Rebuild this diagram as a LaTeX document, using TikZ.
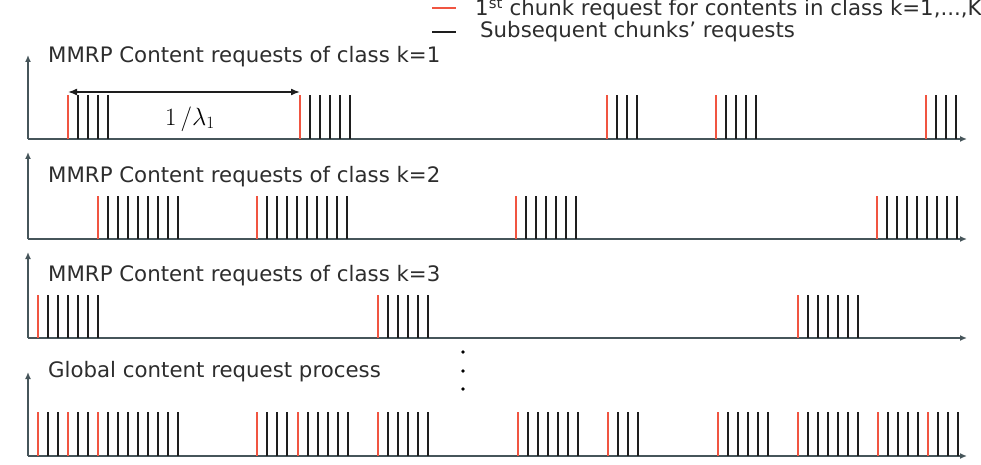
\documentclass[tikz,border=0pt]{standalone}
\usepackage{fontspec}
\setmainfont{DejaVu Sans}
\usetikzlibrary{arrows.meta}
\definecolor{reqred}{RGB}{240,85,65}
\definecolor{pulsec}{RGB}{30,30,30}
\definecolor{axisc}{RGB}{70,85,90}
\definecolor{txtc}{RGB}{45,45,45}
\newcommand\myburst[4]{%
  \draw[firstreq] (#1,#3) -- (#1,#4);
  \foreach \i in {1,...,#2} \draw[chunkreq] ({#1+10*\i},#3) -- ({#1+10*\i},#4);}
\begin{document}
\begin{tikzpicture}[x=1pt,y=-1pt,
  axisline/.style={draw=axisc, line width=1.6pt, -{Latex[length=7pt,width=6pt]}},
  firstreq/.style={draw=reqred, line width=2.3pt},
  chunkreq/.style={draw=pulsec, line width=2.3pt},
  rowtitle/.style={font=\fontsize{21.3}{25}\selectfont, text=txtc, anchor=west, inner sep=0pt},
  legtext/.style={font=\fontsize{21.3}{25}\selectfont, text=txtc, anchor=west, inner sep=0pt},
  dotc/.style={fill=black, draw=none}]
\useasboundingbox (0,0) rectangle (981,465);

% legend
\coordinate (lr1) at (432,8); \coordinate (lr2) at (456,8);
\coordinate (lb1) at (432,32); \coordinate (lb2) at (456,32);
\draw[firstreq] (lr1) -- (lr2);
\draw[chunkreq] (lb1) -- (lb2);
\node[legtext] (leg1) at (475,9) {1\textsuperscript{st} chunk request for contents in class k=1,...,K};
\node[legtext] (leg2) at (480,32) {Subsequent chunks' requests};

% axes
\foreach \ay/\ty [count=\r] in {139/55, 239/152, 338/252, 456/372} {
  \coordinate (o\r) at (28,\ay);
  \coordinate (v\r) at (28,\ty);
  \coordinate (h\r) at (967,\ay);
  \draw[axisline] (o\r) -- (v\r);
  \draw[axisline] (o\r) -- (h\r);
}

% titles
\node[rowtitle] (t1) at (48,57) {MMRP Content requests of class k=1};
\node[rowtitle] (t2) at (48,177) {MMRP Content requests of class k=2};
\node[rowtitle] (t3) at (48,276) {MMRP Content requests of class k=3};
\node[rowtitle] (t4) at (48,372) {Global content request process};

% row 1
\myburst{68}{4}{139}{95}
\myburst{300}{5}{139}{95}
\myburst{607}{3}{139}{95}
\myburst{716}{4}{139}{95}
\myburst{926}{3}{139}{95}
\coordinate (pa) at (68,92); \coordinate (pb) at (300,92);
\draw[pulsec, line width=1.6pt, {Latex[length=9pt,width=7pt]}-{Latex[length=9pt,width=7pt]}] (pa) -- (pb);
\node (lam) at (190,119) {\fontsize{23}{27}\selectfont $1\,/\lambda_1$};

% row 2
\myburst{98}{8}{239}{196}
\myburst{257}{9}{239}{196}
\myburst{516}{6}{239}{196}
\myburst{877}{8}{239}{196}

% row 3
\myburst{38}{6}{338}{295}
\myburst{378}{5}{338}{295}
\myburst{798}{6}{338}{295}

% row 4 (global)
\foreach \x in {38,68,98,257,298,378,518,608,718,798,878,928}
  \draw[firstreq] (\x,456) -- (\x,412);
\foreach \x in {48,58,78,88,108,118,128,138,148,158,168,178,
                267,277,287,308,318,328,338,348,388,398,408,418,428,
                528,538,548,558,568,578,618,628,638,728,738,748,758,768,
                808,818,828,838,848,858,888,898,908,918,938,948,958}
  \draw[chunkreq] (\x,456) -- (\x,412);

% vertical dots
\fill[dotc] (463,352) circle (1.8pt) node (d1) {};
\fill[dotc] (463,371) circle (1.8pt) node (d2) {};
\fill[dotc] (463,389) circle (1.8pt) node (d3) {};
\end{tikzpicture}
\end{document}
